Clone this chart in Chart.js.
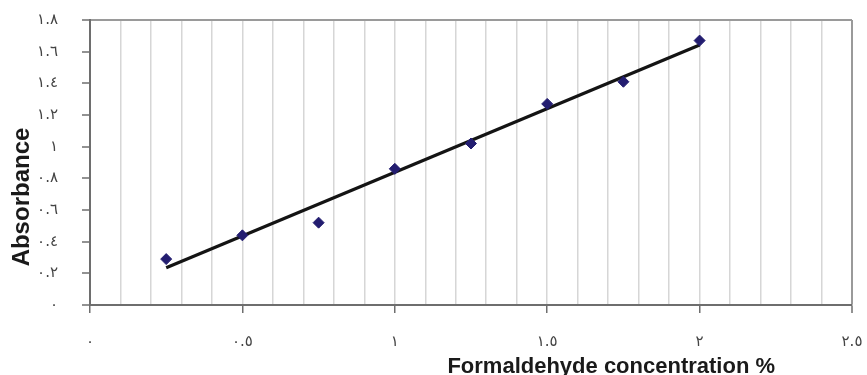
<!DOCTYPE html>
<html>
<head>
<meta charset="utf-8">
<script src="https://cdn.jsdelivr.net/npm/chart.js@4/dist/chart.umd.min.js"></script>
<style>
  html, body { margin: 0; padding: 0; background: #fff; }
  #wrap { width: 867px; height: 375px; position: relative; }
</style>
</head>
<body>
<div id="wrap"><canvas id="c" width="867" height="375"></canvas></div>
<script>
// ---- data ----
const concentration = [0.25, 0.5, 0.75, 1.0, 1.25, 1.5, 1.75, 2.0];
const absorbance    = [0.29, 0.44, 0.52, 0.86, 1.02, 1.27, 1.41, 1.67];
const trendX = [0.25, 2.0];
const trendY = [0.235, 1.642];
const xTickLabels = ['٠', '٠.٥', '١', '١.٥', '٢', '٢.٥'];
const yTickLabels = ['٠', '٠.٢', '٠.٤', '٠.٦', '٠.٨', '١', '١.٢', '١.٤', '١.٦', '١.٨'];
const xTitle = 'Formaldehyde concentration %';
const yTitle = 'Absorbance';

const isMajorX = v => Math.abs(v * 2 - Math.round(v * 2)) < 1e-6;

const titlesPlugin = {
  id: 'titles',
  afterDraw(chart) {
    const { ctx } = chart;
    ctx.save();
    ctx.fillStyle = '#1a1a1a';
    ctx.font = 'bold 22px "Liberation Sans", Arial, sans-serif';
    ctx.textAlign = 'center';
    ctx.textBaseline = 'alphabetic';
    const xs = chart.scales.x;
    ctx.fillText(xTitle, xs.getPixelForValue(1.71), chart.height - 2);
    const ys = chart.scales.y;
    ctx.translate(29, ys.getPixelForValue(0.682));
    ctx.rotate(-Math.PI / 2);
    ctx.font = 'bold 24px "Liberation Sans", Arial, sans-serif';
    ctx.fillText(yTitle, 0, 0);
    ctx.restore();
  }
};

new Chart(document.getElementById('c'), {
  type: 'scatter',
  data: {
    datasets: [
      {
        type: 'line',
        data: trendX.map((x, i) => ({ x, y: trendY[i] })),
        borderColor: '#141414',
        borderWidth: 3.2,
        pointRadius: 0,
        fill: false,
        order: 2
      },
      {
        data: concentration.map((x, i) => ({ x, y: absorbance[i] })),
        pointStyle: 'rectRot',
        pointRadius: 5.5,
        backgroundColor: '#231d70',
        borderColor: '#231d70',
        borderWidth: 1,
        order: 1
      }
    ]
  },
  options: {
    responsive: false,
    animation: false,
    layout: { padding: { top: 20, right: 15, left: 0, bottom: 0 } },
    plugins: { legend: { display: false }, tooltip: { enabled: false } },
    scales: {
      x: {
        type: 'linear',
        min: 0, max: 2.5,
        afterFit(s) { s.height = 70; s.paddingLeft = 0; s.paddingRight = 0; },
        border: { display: true, color: '#6e6e6e', width: 2 },
        grid: {
          drawOnChartArea: true,
          color: ctx => (ctx.tick && Math.abs(ctx.tick.value - 2.5) < 1e-6) ? '#9a9a9a' : '#d6d6d6',
          lineWidth: ctx => (ctx.tick && Math.abs(ctx.tick.value - 2.5) < 1e-6) ? 2 : 1.5,
          tickColor: ctx => (ctx.tick && isMajorX(ctx.tick.value)) ? '#6e6e6e' : 'rgba(0,0,0,0)',
          tickLength: 8,
          tickWidth: 1.5
        },
        ticks: {
          stepSize: 0.1,
          autoSkip: false,
          maxRotation: 0,
          padding: 20,
          color: '#444',
          font: { family: '"DejaVu Sans", sans-serif', size: 15 },
          callback: v => isMajorX(v) ? xTickLabels[Math.round(v * 2)] : ''
        }
      },
      y: {
        min: 0, max: 1.8,
        afterFit(s) { s.width = 90; s.paddingTop = 0; s.paddingBottom = 0; },
        border: { display: true, color: '#6e6e6e', width: 2 },
        grid: {
          drawOnChartArea: true,
          color: ctx => (ctx.tick && Math.abs(ctx.tick.value - 1.8) < 1e-6) ? '#9a9a9a' : 'rgba(0,0,0,0)',
          lineWidth: 2,
          tickColor: '#6e6e6e',
          tickLength: 8,
          tickWidth: 1.5
        },
        ticks: {
          stepSize: 0.2,
          padding: 24,
          color: '#444',
          font: { family: '"DejaVu Sans", sans-serif', size: 15 },
          callback: v => yTickLabels[Math.round(v * 5)]
        }
      }
    }
  },
  plugins: [titlesPlugin]
});
</script>
</body>
</html>
